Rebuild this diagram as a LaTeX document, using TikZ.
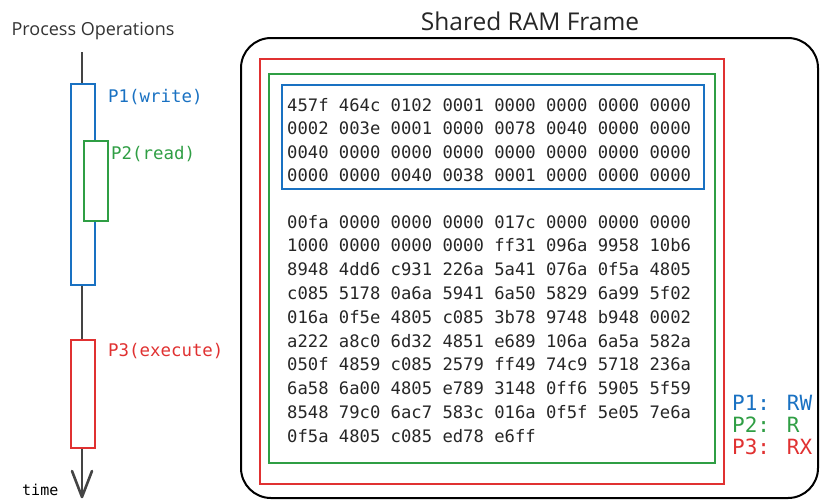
\documentclass[tikz,border=0pt]{standalone}
\usepackage{fontspec}
\setmainfont{Open Sans}
\newfontfamily\monof{DejaVu Sans Mono}
\usetikzlibrary{arrows.meta}
\definecolor{cblue}{HTML}{1971C2}
\definecolor{cgreen}{HTML}{2F9E44}
\definecolor{cred}{HTML}{E03131}
\definecolor{cgray}{HTML}{444444}
\begin{document}
\begin{tikzpicture}[x=1pt,y=-1pt,
  hex/.style={anchor=base west,inner sep=0pt,font=\monof\fontsize{17.2}{20}\selectfont,text=black!85},
  lbl/.style={anchor=west,inner sep=0pt,font=\monof\fontsize{17.4}{20}\selectfont},
  leg/.style={anchor=west,inner sep=0pt,font=\monof\fontsize{21}{22}\selectfont},
  box/.style={draw,line width=1.8pt,inner sep=0pt,anchor=north west},
  pbox/.style={draw,fill=white,line width=2.2pt,inner sep=0pt,anchor=north west,minimum width=24pt},
  tl/.style={draw=cgray,line width=2.6pt}]
\useasboundingbox (0,0) rectangle (821,499);
% titles
\node[font=\fontsize{18}{20}\selectfont,text=black!80] (pt) at (93,31) {Process Operations};
\node[font=\fontsize{24.5}{26}\selectfont,text=black!85] (st) at (530,21) {Shared RAM Frame};
% outer frame
\draw[line width=2pt,rounded corners=30pt] (241,38) rectangle (818,498);
% permission boxes
\node[box,draw=cred,minimum width=464pt,minimum height=425pt] (rbox) at (259,58) {};
\node[box,draw=cgreen,minimum width=446pt,minimum height=389pt] (gbox) at (268,73) {};
\node[box,draw=cblue,minimum width=422pt,minimum height=104pt] (bbox) at (281,84) {};
% hex header
\node[hex] (h1) at (287,111) {457f 464c 0102 0001 0000 0000 0000 0000};
\node[hex] (h2) at (287,134.5) {0002 003e 0001 0000 0078 0040 0000 0000};
\node[hex] (h3) at (287,158) {0040 0000 0000 0000 0000 0000 0000 0000};
\node[hex] (h4) at (287,181.5) {0000 0000 0040 0038 0001 0000 0000 0000};
% hex body
\node[hex] (b1) at (287,228) {00fa 0000 0000 0000 017c 0000 0000 0000};
\node[hex] (b2) at (287,251.8) {1000 0000 0000 0000 ff31 096a 9958 10b6};
\node[hex] (b3) at (287,275.6) {8948 4dd6 c931 226a 5a41 076a 0f5a 4805};
\node[hex] (b4) at (287,299.4) {c085 5178 0a6a 5941 6a50 5829 6a99 5f02};
\node[hex] (b5) at (287,323.2) {016a 0f5e 4805 c085 3b78 9748 b948 0002};
\node[hex] (b6) at (287,347) {a222 a8c0 6d32 4851 e689 106a 6a5a 582a};
\node[hex] (b7) at (287,370.8) {050f 4859 c085 2579 ff49 74c9 5718 236a};
\node[hex] (b8) at (287,394.6) {6a58 6a00 4805 e789 3148 0ff6 5905 5f59};
\node[hex] (b9) at (287,418.4) {8548 79c0 6ac7 583c 016a 0f5f 5e05 7e6a};
\node[hex] (b10) at (287,442.2) {0f5a 4805 c085 ed78 e6ff};
% legend
\node[leg,text=cblue] (l1) at (732,403) {P1: RW};
\node[leg,text=cgreen] (l2) at (732,425) {P2: R};
\node[leg,text=cred] (l3) at (732,447) {P3: RX};
% timeline
\coordinate (top) at (82,52);
\coordinate (tip) at (82,497);
\node[pbox,draw=cblue,minimum height=201pt] (p1) at (70,83) {};
\node[pbox,draw=cgreen,minimum height=80pt] (p2) at (83,140) {};
\node[pbox,draw=cred,minimum height=108pt] (p3) at (70,339) {};
\draw[tl] (top) -- (p1.north west -| top);
\draw[tl] (p1.south west -| top) -- (p3.north west -| top);
\draw[tl] (p3.south west -| top) -- (tip);
\draw[tl,line cap=round,line join=round] (72,471) -- (tip) -- (92,471);
\node[anchor=base west,inner sep=0pt,font=\monof\fontsize{15}{16}\selectfont] (tm) at (22,495) {time};
\node[lbl,text=cblue] (t1) at (108,97) {P1(write)};
\node[lbl,text=cgreen] (t2) at (111,154) {P2(read)};
\node[lbl,text=cred] (t3) at (108,351) {P3(execute)};
\end{tikzpicture}
\end{document}
